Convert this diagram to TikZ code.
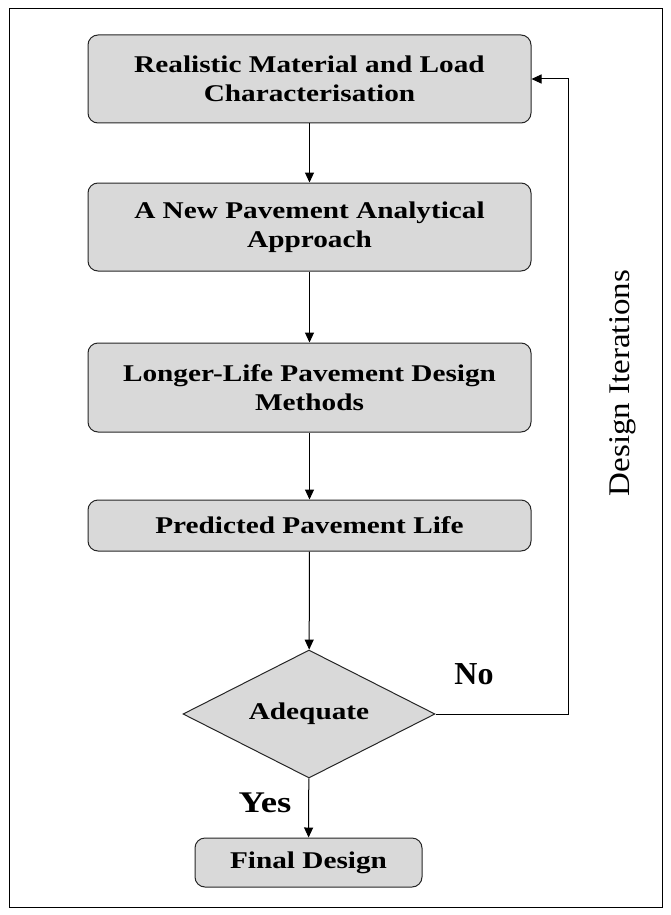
\documentclass[tikz,border=0pt]{standalone}
\usepackage{fontspec}
\setmainfont{Liberation Serif}
\newfontfamily\widefont{Liberation Serif}[FakeStretch=1.22]
\newfontfamily\difont{Liberation Serif}[FakeStretch=1.1]
\usetikzlibrary{shapes.geometric,arrows.meta}
\begin{document}
\begin{tikzpicture}[x=1pt,y=-1pt,
  shapeline/.style={draw=black!85,line width=1pt,fill=black!15},
  box/.style={shapeline,rounded corners=10pt,align=center,font=\widefont\bfseries\fontsize{24}{29.5}\selectfont,inner sep=0pt},
  conn/.style={line width=1pt,-{Triangle[length=10pt,width=9pt]}},
  lbl/.style={font=\bfseries\fontsize{32}{36}\selectfont}]
\useasboundingbox (0,0) rectangle (670,915);
\draw[line width=0.8pt] (9,8) rectangle (662,907);
\node[box,minimum width=443pt,minimum height=88pt] (b1) at (309.5,79) {Realistic Material and Load\\Characterisation};
\node[box,minimum width=443pt,minimum height=88pt] (b2) at (309.5,227) {A New Pavement Analytical\\Approach};
\node[box,minimum width=443pt,minimum height=89pt] (b3) at (309.5,387.5) {Longer-Life Pavement Design\\Methods};
\node[box,minimum width=443pt,minimum height=51pt] (b4) at (309.5,525.5) {Predicted Pavement Life};
\node[shapeline,diamond,aspect=2,minimum width=252pt,minimum height=128pt,inner sep=0pt,font=\widefont\bfseries\fontsize{24}{28}\selectfont] (d) at (309,714) {Adequate};
\node[box,minimum width=227pt,minimum height=49pt] (f) at (308.5,862.5) {Final Design};
\coordinate (c1) at (568,714);
\coordinate (c2) at (568,79);
\draw[conn] (b1) -- (b2);
\draw[conn] (b2) -- (b3);
\draw[conn] (b3) -- (b4);
\draw[conn] (b4) -- (d);
\draw[conn] (d) -- (f);
\draw[conn] (d.east) -- (c1) -- (c2) -- (b1.east);
\node[lbl] (no) at (474,674) {No};
\node[font=\widefont\bfseries\fontsize{30}{34}\selectfont] (yes) at (265,803) {Yes};
\node[rotate=90,font=\difont\fontsize{30}{34}\selectfont] (di) at (623,383) {Design Iterations};
\end{tikzpicture}
\end{document}
